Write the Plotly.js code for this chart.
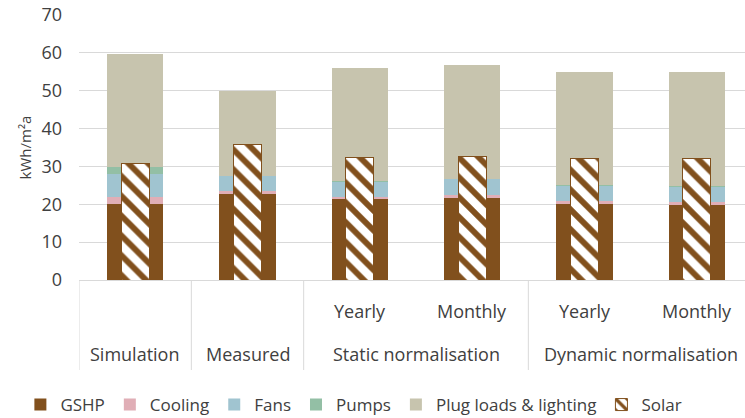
<!DOCTYPE html>
<html><head><meta charset="utf-8">
<script src="https://cdn.plot.ly/plotly-3.0.1.min.js"></script>
<style>html,body{margin:0;padding:0;overflow:hidden;background:#fff}#c{width:755px;height:418px}</style>
</head><body><div id="c"></div>
<script>
const groups = ["Simulation","Measured","Static normalisation","Static normalisation","Dynamic normalisation","Dynamic normalisation"];
const subs = ["","","Yearly","Monthly","Yearly","Monthly"];
const gshp = [20.0, 22.6, 21.3, 21.7, 20.0, 19.9];
const cooling = [1.8, 0.9, 0.6, 0.7, 0.8, 0.8];
const fans = [6.1, 4.1, 4.1, 4.2, 4.1, 3.9];
const pumps = [1.9, 0.0, 0.1, 0.1, 0.1, 0.1];
const plug = [30.0, 22.3, 30.0, 30.0, 29.9, 30.2];
const solar = [30.7, 35.7, 32.4, 32.7, 32.1, 32.1];

const cats = groups.map((g, i) => subs[i] ? g + " " + subs[i] : g);
const font = {family: "Open Sans, sans-serif", color: "#404040"};
const brown = "#81501D";
function stack(name, y, color){
  return {type:"bar", name, x:cats, y, width:0.5, marker:{color, line:{width:0}}, xaxis:"x", yaxis:"y"};
}
const traces = [
  stack("GSHP", gshp, brown),
  stack("Cooling", cooling, "#E0AEB6"),
  stack("Fans", fans, "#A0C4D0"),
  stack("Pumps", pumps, "#93BFA5"),
  stack("Plug loads & lighting", plug, "#C7C4AE"),
  {type:"bar", name:"Solar", x:cats, y:solar, width:0.25, xaxis:"x2", yaxis:"y",
   marker:{color:brown, line:{color:brown, width:1},
     pattern:{shape:"\\", fgcolor:brown, bgcolor:"#ffffff", fgopacity:1, size:14, solidity:0.42, fillmode:"replace"}}}
];

const annotations = [];
const shapes = [];
const plotH = 265;
const innerY = (280 - 311) / plotH, outerY = (280 - 354) / plotH, divY = (280 - 370) / plotH;
subs.forEach((s, i) => {
  if (s) annotations.push({x:i, y:innerY, xref:"x", yref:"paper", text:s, showarrow:false, yanchor:"middle", font:{...font, size:18}});
});
const seen = [];
groups.forEach((g) => {
  if (seen.includes(g)) return;
  seen.push(g);
  const idx = groups.map((v, j) => v === g ? j : -1).filter(j => j >= 0);
  const mid = (idx[0] + idx[idx.length - 1]) / 2;
  annotations.push({x:mid, y:outerY, xref:"x", yref:"paper", text:g, showarrow:false, yanchor:"middle", font:{...font, size:18}});
  shapes.push({type:"line", xref:"x", yref:"paper", x0:idx[0] - 0.5, x1:idx[0] - 0.5, y0:0, y1:divY, line:{color:"#D9D9D9", width:1}});
});
shapes.push({type:"line", xref:"x", yref:"paper", x0:groups.length - 0.5, x1:groups.length - 0.5, y0:0, y1:divY, line:{color:"#D9D9D9", width:1}});

const layout = {
  width:755, height:418,
  margin:{l:79, r:2, t:15, b:138, autoexpand:false},
  barmode:"stack",
  paper_bgcolor:"#fff", plot_bgcolor:"#fff",
  font:{...font, size:18},
  showlegend:true,
  legend:{orientation:"h", xref:"container", yref:"container", x:0.027, xanchor:"left", y:(418 - 405) / 418, yanchor:"middle",
    font:{...font, size:17}, traceorder:"normal", itemwidth:30, bgcolor:"rgba(0,0,0,0)"},
  annotations, shapes,
  xaxis:{type:"category", showgrid:false, showline:true, linecolor:"#D9D9D9", linewidth:1, showticklabels:false, ticks:"", range:[-0.5, 5.5], automargin:false},
  xaxis2:{type:"category", overlaying:"x", matches:"x", visible:false},
  yaxis:{range:[0,70], dtick:10, showgrid:true, gridcolor:"#D9D9D9", gridwidth:1, zeroline:false, automargin:false,
    tickfont:{...font, size:18}, ticks:"", ticklabelstandoff:16, title:{text:"kWh/m²a", font:{...font, size:15}, standoff:6}},
};
Plotly.newPlot("c", traces, layout, {displayModeBar:false, staticPlot:true});
</script></body></html>
